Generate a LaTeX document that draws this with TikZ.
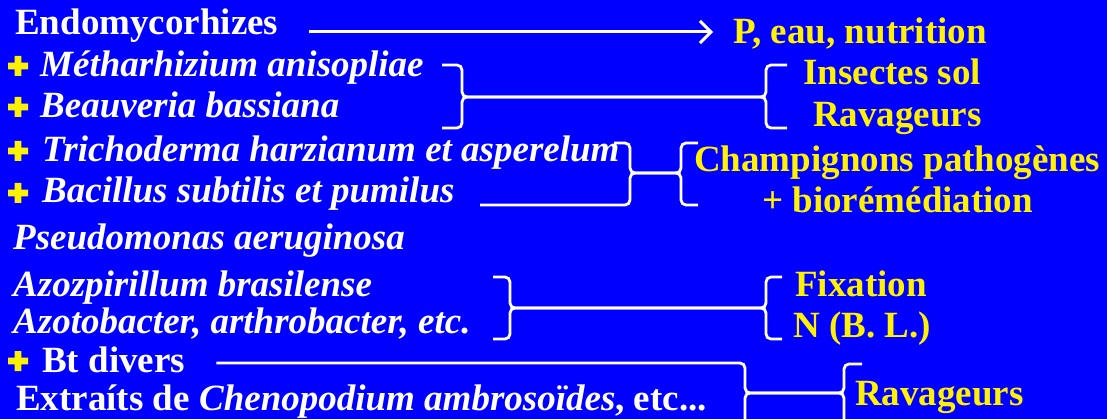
\documentclass[tikz,border=0pt]{standalone}
\usepackage{fontspec}
\setmainfont{LiberationSerif}[
  Extension=.ttf,
  UprightFont=*-Regular,
  BoldFont=*-Bold,
  ItalicFont=*-Italic,
  BoldItalicFont=*-BoldItalic]
\usetikzlibrary{arrows.meta, calc}

\tikzset{
  lbl/.style={anchor=base west, inner sep=0pt, text=white},
  res/.style={anchor=base west, inner sep=0pt, text=yellow},
  brace/.style={white, line width=2.8pt, rounded corners=5pt},
}

\begin{document}
\begin{tikzpicture}[x=1pt, y=-1pt, font=\fontsize{37}{40}\selectfont\bfseries]
  % background
  \fill[blue] (0,0) rectangle (1107,419);
  \clip (0,0) rectangle (1107,419);

  % left column
  \node[lbl] (endo)   at (15,35)  {Endomycorhizes};
  \node[lbl] (meta)   at (40,77)  {\itshape Métharhizium anisopliae};
  \node[lbl] (beau)   at (40,118) {\itshape Beauveria bassiana};
  \node[lbl] (tricho) at (42,162) {\itshape Trichoderma harzianum et asperelum};
  \node[lbl] (bacil)  at (42,203) {\itshape Bacillus subtilis et pumilus};
  \node[lbl] (pseudo) at (13,250) {\itshape Pseudomonas aeruginosa};
  \node[lbl] (azos)   at (13,297) {\itshape Azozpirillum brasilense};
  \node[lbl] (azot)   at (13,333) {\itshape Azotobacter, arthrobacter, etc.};
  \node[lbl] (bt)     at (42,372) {Bt divers};
  \node[lbl] (extr)   at (16,410) {Extraíts de \textit{Chenopodium ambrosoïdes}, etc...};

  % right column
  \node[res] (peau)  at (733,44)  {P, eau, nutrition};
  \node[res] (ins)   at (803,85)  {Insectes sol};
  \node[res] (rav)   at (813,127) {Ravageurs};
  \node[res] (champ) at (694,172) {Champignons pathogènes};
  \node[res] (bio)   at (762,213) {+ biorémédiation};
  \node[res] (fix)   at (795,297) {Fixation};
  \node[res] (nbl)   at (793,337) {N (B. L.)};
  \node[res] (rav2)  at (855,405) {Ravageurs};

  % yellow plus signs
  \foreach \y in {66,107,151,193,361}
    \fill[yellow] (18,\y) +(-10,-3.3) rectangle +(10,3.3) +(-3.3,-10) rectangle +(3.3,10);

  % arrow
  \draw[white, line width=3pt, -{Straight Barb[length=11pt,width=22pt]}]
    ([xshift=30pt,yshift=3pt]endo.base east) coordinate (a0) -- ([xshift=-20pt]a0 -| peau.west);

  % braces
  \coordinate (b1l) at (462,97);
  \coordinate (b1r) at (766,97);
  \foreach \h in {-32,31}
    \draw[brace] ($(b1l)+(-20,\h)$) -| (b1l) -- (b1r) |- ($(b1r)+(21,\h)$);

  \coordinate (b2l) at (630,173);
  \coordinate (b2r) at (681,173);
  \draw[brace] ($(b2l)+(-16,-30)$) -| (b2l) -- (b2r) |- ($(b2r)+(17,-30)$);
  \draw[brace] ($(b2l)+(-150,32)$) -| (b2l) -- (b2r) |- ($(b2r)+(17,32)$);

  \coordinate (b3l) at (510,308);
  \coordinate (b3r) at (766,308);
  \foreach \h in {-31,31}
    \draw[brace] ($(b3l)+(-17,\h)$) -| (b3l) -- (b3r) |- ($(b3r)+(16,\h)$);

  \coordinate (b4l) at (745,393);
  \coordinate (b4r) at (844,393);
  \draw[brace] ([xshift=31pt,yshift=9pt]bt.base east) -| (b4l) -- (b4r) |- ($(b4r)+(18,-29)$);
  \draw[brace] ($(b4l)+(0,40)$) |- (b4r) -- ($(b4r)+(0,40)$);
\end{tikzpicture}
\end{document}
